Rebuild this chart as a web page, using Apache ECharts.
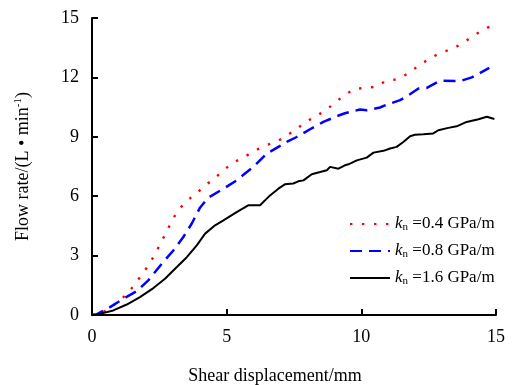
<!DOCTYPE html>
<html><head><meta charset="utf-8">
<script src="https://cdn.jsdelivr.net/npm/echarts@6/dist/echarts.min.js"></script>
<style>html,body{margin:0;padding:0;background:#fff}#c{width:512px;height:385px}</style>
</head><body><div id="c"></div>
<script>
const seriesNames = ['0.4', '0.8', '1.6'];
const xTicks = [0, 5, 10, 15];
const yTicks = [0, 3, 6, 9, 12, 15];

const x04 = [0, 0.17, 0.47, 0.85, 1.21, 1.53, 1.81, 2.09, 2.33, 2.55, 2.77, 2.98, 3.19, 3.5, 3.86, 4.24, 4.6, 4.96, 5.33, 5.74, 6.1, 6.5, 6.93, 7.34, 7.72, 8.11, 8.52, 8.87, 9.28, 9.72, 10.15, 10.58, 10.89, 11.31, 11.75, 12.12, 12.53, 12.93, 13.37, 13.81, 14.2, 14.57, 14.94];
const y04 = [0, 0.02, 0.19, 0.55, 0.95, 1.44, 1.96, 2.49, 3.04, 3.63, 4.2, 4.8, 5.27, 5.74, 6.13, 6.58, 6.96, 7.4, 7.75, 8.05, 8.34, 8.59, 8.81, 9.16, 9.52, 9.89, 10.21, 10.55, 11.0, 11.41, 11.47, 11.54, 11.81, 11.9, 12.2, 12.59, 12.94, 13.24, 13.43, 13.77, 14.14, 14.43, 14.69];

const x08 = [0, 0.17, 0.67, 1.16, 1.66, 2.09, 2.59, 3.02, 3.39, 3.7, 4.01, 4.32, 4.88, 5.37, 5.99, 6.49, 6.92, 7.23, 7.6, 8.16, 8.59, 9.09, 9.39, 9.95, 10.2, 10.69, 11.0, 11.44, 11.75, 12.12, 12.43, 12.92, 13.66, 14.1, 14.75];
const y08 = [0, 0.03, 0.4, 0.82, 1.2, 1.75, 2.59, 3.26, 3.94, 4.61, 5.42, 5.93, 6.38, 6.8, 7.48, 8.15, 8.49, 8.74, 8.99, 9.43, 9.75, 10.04, 10.19, 10.38, 10.34, 10.48, 10.65, 10.85, 11.1, 11.44, 11.47, 11.83, 11.81, 12.0, 12.48];

const x16 = [0, 0.17, 0.79, 1.29, 1.78, 2.28, 2.71, 3.15, 3.52, 3.89, 4.2, 4.57, 4.88, 5.37, 5.8, 6.24, 6.61, 6.92, 7.16, 7.47, 7.66, 7.85, 8.16, 8.47, 8.72, 8.84, 9.15, 9.39, 9.52, 9.83, 10.2, 10.45, 10.82, 11.07, 11.31, 11.56, 11.81, 11.99, 12.3, 12.67, 12.86, 13.23, 13.54, 13.91, 14.35, 14.66, 14.94];
const y16 = [0, 0.02, 0.23, 0.53, 0.9, 1.36, 1.83, 2.42, 2.92, 3.52, 4.11, 4.53, 4.78, 5.2, 5.54, 5.54, 6.04, 6.38, 6.6, 6.64, 6.75, 6.8, 7.11, 7.22, 7.31, 7.48, 7.39, 7.56, 7.61, 7.81, 7.95, 8.2, 8.29, 8.41, 8.49, 8.74, 9.03, 9.1, 9.13, 9.17, 9.33, 9.45, 9.53, 9.75, 9.89, 10.01, 9.9];

const zip = (a, b) => a.map((v, i) => [v, b[i]]);
const font = '"Liberation Serif", "Times New Roman", serif';

const chart = echarts.init(document.getElementById('c'), null, {renderer: 'canvas'});
chart.setOption({
  animation: false,
  backgroundColor: '#fff',
  grid: {left: 92, right: 16, top: 18, bottom: 70, outerBoundsMode: 'none', containLabel: false},
  legend: {
    orient: 'vertical', left: 344, top: 210,
    itemWidth: 40, itemHeight: 14, itemGap: 9,
    data: seriesNames,
    itemStyle: {opacity: 0},
    formatter: n => '{i|k}{s|n}{t| =' + n + ' GPa/m}',
    textStyle: {
      fontFamily: font, fontSize: 17, color: '#000', lineHeight: 18,
      rich: {
        i: {fontFamily: font, fontSize: 17, fontStyle: 'italic', color: '#000'},
        s: {fontFamily: font, fontSize: 11, color: '#000', padding: [6, 0, 0, 0]},
        t: {fontFamily: font, fontSize: 17, color: '#000'}
      }
    }
  },
  xAxis: {
    type: 'value', min: 0, max: 15, interval: 5,
    name: 'Shear displacement/mm', nameLocation: 'middle', nameGap: 52,
    nameTextStyle: {fontFamily: font, fontSize: 18, color: '#000', padding: [0, 38, 0, 0]},
    axisLine: {lineStyle: {color: '#000', width: 2}},
    axisTick: {inside: true, length: 6, lineStyle: {color: '#000', width: 2}},
    axisLabel: {fontFamily: font, fontSize: 18, color: '#000', margin: 13,
      formatter: v => xTicks.includes(v) ? String(v) : ''},
    splitLine: {show: false}
  },
  yAxis: {
    type: 'value', min: 0, max: 15, interval: 3,
    name: 'Flow rate/(L • min{sup|-1})', nameLocation: 'middle', nameGap: 58, nameRotate: 90,
    nameTextStyle: {fontFamily: font, fontSize: 18, color: '#000',
      rich: {sup: {fontFamily: font, fontSize: 11, color: '#000', padding: [0, 0, 10, 0]}}},
    axisLine: {show: true, lineStyle: {color: '#000', width: 2}},
    axisTick: {inside: true, length: 6, lineStyle: {color: '#000', width: 2}},
    axisLabel: {fontFamily: font, fontSize: 18, color: '#000', margin: 13,
      formatter: v => yTicks.includes(v) ? String(v) : ''},
    splitLine: {show: false}
  },
  series: [
    {name: seriesNames[0], type: 'line', data: zip(x04, y04), showSymbol: false, symbol: 'none',
     lineStyle: {color: '#ff0000', width: 2.4, type: [2.4, 9.6]}, itemStyle: {color: '#ff0000'}},
    {name: seriesNames[1], type: 'line', data: zip(x08, y08), showSymbol: false, symbol: 'none',
     lineStyle: {color: '#0000ff', width: 2.5, type: [12, 7]}, itemStyle: {color: '#0000ff'}},
    {name: seriesNames[2], type: 'line', data: zip(x16, y16), showSymbol: false, symbol: 'none',
     lineStyle: {color: '#000', width: 2}, itemStyle: {color: '#000'}}
  ]
});
</script></body></html>
